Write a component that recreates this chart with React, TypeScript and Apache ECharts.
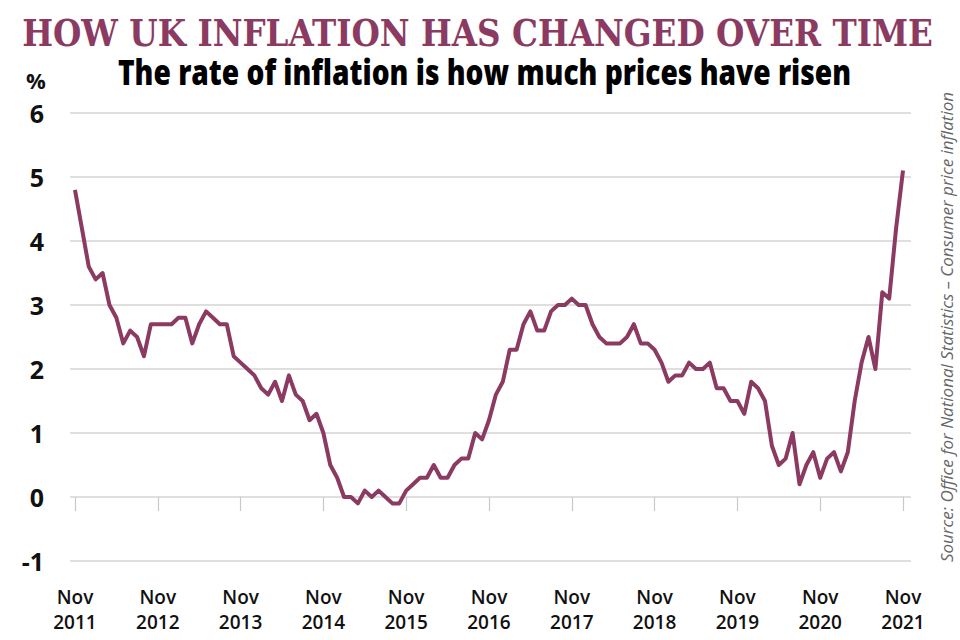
import React, { useEffect, useRef } from "react";
import * as echarts from "echarts";

const months: string[] = ["Nov 2011", "Dec 2011",
  ...["2012", "2013", "2014", "2015", "2016", "2017", "2018", "2019", "2020"].flatMap((y) =>
    ["Jan", "Feb", "Mar", "Apr", "May", "Jun", "Jul", "Aug", "Sep", "Oct", "Nov", "Dec"].map((m) => `${m} ${y}`)),
  ...["Jan", "Feb", "Mar", "Apr", "May", "Jun", "Jul", "Aug", "Sep", "Oct", "Nov"].map((m) => `${m} 2021`)];

const cpi: number[] = [
  4.8, 4.2,
  3.6, 3.4, 3.5, 3.0, 2.8, 2.4, 2.6, 2.5, 2.2, 2.7, 2.7, 2.7,
  2.7, 2.8, 2.8, 2.4, 2.7, 2.9, 2.8, 2.7, 2.7, 2.2, 2.1, 2.0,
  1.9, 1.7, 1.6, 1.8, 1.5, 1.9, 1.6, 1.5, 1.2, 1.3, 1.0, 0.5,
  0.3, 0.0, 0.0, -0.1, 0.1, 0.0, 0.1, 0.0, -0.1, -0.1, 0.1, 0.2,
  0.3, 0.3, 0.5, 0.3, 0.3, 0.5, 0.6, 0.6, 1.0, 0.9, 1.2, 1.6,
  1.8, 2.3, 2.3, 2.7, 2.9, 2.6, 2.6, 2.9, 3.0, 3.0, 3.1, 3.0,
  3.0, 2.7, 2.5, 2.4, 2.4, 2.4, 2.5, 2.7, 2.4, 2.4, 2.3, 2.1,
  1.8, 1.9, 1.9, 2.1, 2.0, 2.0, 2.1, 1.7, 1.7, 1.5, 1.5, 1.3,
  1.8, 1.7, 1.5, 0.8, 0.5, 0.6, 1.0, 0.2, 0.5, 0.7, 0.3, 0.6,
  0.7, 0.4, 0.7, 1.5, 2.1, 2.5, 2.0, 3.2, 3.1, 4.2, 5.1,
];

const tickIndexes: number[] = [0, 12, 24, 36, 48, 60, 72, 84, 96, 108, 120];
const yTicks: number[] = [-1, 0, 1, 2, 3, 4, 5, 6];

const TITLE = "HOW UK INFLATION HAS CHANGED OVER TIME";
const SUBTITLE = "The rate of inflation is how much prices have risen";
const SOURCE = "Source: Office for National Statistics \u2013 Consumer price inflation";

const PLUM = "#8b3a62";

const TITLE_FONT = "bold 37px 'DejaVu Serif', 'Liberation Serif', serif";
const SUBTITLE_FONT = "800 35px 'Open Sans', sans-serif";
const SOURCE_FONT = "italic 17px 'Open Sans', sans-serif";

function fitScale(text: string, font: string, target: number): number {
  const c = document.createElement("canvas").getContext("2d");
  if (!c) return 1;
  c.font = font;
  const w = c.measureText(text).width;
  return w > 0 ? target / w : 1;
}

export default function App() {
  const ref = useRef<HTMLDivElement>(null);
  useEffect(() => {
    if (!ref.current) return;
    const chart = echarts.init(ref.current, null, { renderer: "svg" });
    const titleScale = fitScale(TITLE, TITLE_FONT, 911);
    const subScale = fitScale(SUBTITLE, SUBTITLE_FONT, 733);
    const srcScale = fitScale(SOURCE, SOURCE_FONT, 470);
    chart.setOption({
      animation: false,
      backgroundColor: "#ffffff",
      grid: { left: 70, right: 49, top: 113, bottom: 79, containLabel: false },
      xAxis: {
        type: "value",
        min: -0.72,
        max: 121.16,
        axisLine: { show: false },
        splitLine: { show: false },
        axisTick: {
          show: true,
          customValues: tickIndexes,
          length: 14,
          lineStyle: { color: "#c8c8c8", width: 1.2 },
        },
        axisLabel: {
          customValues: tickIndexes,
          margin: 23,
          fontFamily: "'Open Sans', sans-serif",
          fontWeight: 600,
          fontSize: 19,
          lineHeight: 25,
          color: "#111",
          formatter: (v: number) => {
            const parts = months[Math.round(v)].split(" ");
            return parts[0] + "\n" + parts[1];
          },
        },
      },
      yAxis: {
        type: "value",
        min: -1,
        max: 6,
        interval: 1,
        axisLine: { show: false },
        axisTick: { show: false },
        splitLine: { lineStyle: { color: "#d4d4d4", width: 1.5 } },
        axisLabel: {
          margin: 26,
          fontFamily: "'Open Sans', sans-serif",
          fontWeight: 700,
          fontSize: 25,
          color: "#111",
          formatter: (v: number) => (yTicks.includes(v) ? String(v) : ""),
        },
      },
      graphic: [
        {
          type: "text",
          x: 477.5,
          y: 33,
          scaleX: titleScale,
          style: {
            text: TITLE,
            fill: PLUM,
            font: TITLE_FONT,
            align: "center",
            verticalAlign: "middle",
          },
        },
        {
          type: "text",
          x: 484.5,
          y: 71,
          scaleX: subScale,
          style: {
            text: SUBTITLE,
            fill: "#000",
            font: SUBTITLE_FONT,
            align: "center",
            verticalAlign: "middle",
          },
        },
        {
          type: "text",
          x: 36,
          y: 80,
          style: {
            text: "%",
            fill: "#111",
            font: "bold 22px 'Open Sans', sans-serif",
            align: "center",
            verticalAlign: "middle",
          },
        },
        {
          type: "text",
          x: 946,
          y: 327,
          rotation: Math.PI / 2,
          scaleX: srcScale,
          scaleY: srcScale,
          style: {
            text: SOURCE,
            fill: "#666",
            font: SOURCE_FONT,
            align: "center",
            verticalAlign: "middle",
          },
        },
      ],
      series: [
        {
          type: "line",
          data: cpi.map((v, i) => [i, v]),
          showSymbol: false,
          symbol: "none",
          lineStyle: { color: PLUM, width: 4, join: "round" },
        },
      ],
    });
    return () => chart.dispose();
  }, []);
  return <div ref={ref} style={{ width: 960, height: 640, position: "absolute", left: 0, top: 0 }} />;
}
